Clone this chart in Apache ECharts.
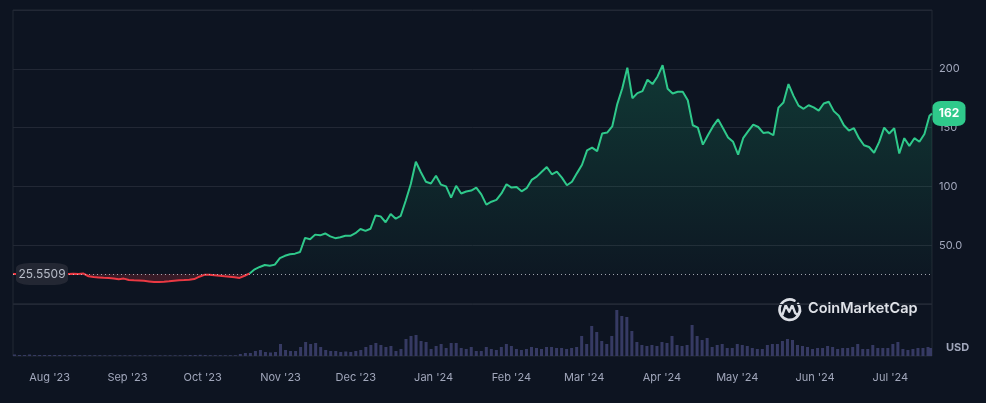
<!DOCTYPE html>
<html>
<head>
<meta charset="utf-8">
<script src="https://cdn.jsdelivr.net/npm/echarts@6/dist/echarts.min.js"></script>
<style>
  html, body { margin: 0; padding: 0; background: #0d1421; }
  #chart { width: 986px; height: 403px; }
</style>
</head>
<body>
<div id="chart"></div>
<script>
// ---- Data (sampled every 2 days from 18 Jul 2023, last point 17 Jul 2024) ----
const startYear = 2023, startMonth = 6, startDay = 18;   // 18 Jul 2023
const lastDayOffset = 365;                               // 17 Jul 2024
const baselinePrice = 25.5509;

const priceValues = [
  25.55, 25.6, 25.5, 25.6, 25.5, 25.6, 25.5, 25.6, 25.5, 25.6,
  25.5, 25.5, 25.7, 25.6, 25.9, 23.6, 22.9, 22.6, 22.3, 22.1,
  21.7, 21.1, 21.6, 20.4, 20.1, 20.0, 19.7, 19.2, 18.7, 18.8,
  19.0, 19.3, 19.8, 20.2, 20.4, 20.7, 21.2, 23.2, 24.8, 24.9,
  24.5, 24.0, 23.5, 23.2, 22.8, 22.2, 24.0, 26.0, 29.5, 31.5,
  33.2, 32.6, 33.5, 39, 41, 42.3, 42.8, 44.2, 56.2, 55,
  59, 58.4, 60, 57.5, 56, 56.8, 58, 58, 60.2, 63.8,
  62.2, 64, 75.3, 74.5, 69.5, 76.5, 72.5, 75, 88, 102,
  121, 112, 104, 102.5, 109, 101.5, 100, 90.5, 100.5, 94,
  95.7, 96.5, 99, 93.2, 84.5, 87, 88.5, 94, 101.8, 99,
  99.5, 95.8, 98.5, 105.5, 108.3, 112.5, 116.5, 110.3, 112.6, 107.5,
  101, 104, 111.3, 118.4, 130.7, 133, 130, 145, 145.8, 151,
  170, 183.5, 201, 175, 179.3, 181, 190.7, 187, 193.5, 203,
  183, 179, 180.5, 180.5, 173.3, 152, 150, 135.5, 143.5, 151,
  157, 149.5, 141.6, 137.9, 127, 141, 147, 152.5, 150.5, 145.5,
  146, 143.5, 167, 171.3, 187, 177, 168.7, 166, 169, 167.2,
  164.5, 170.5, 172, 164, 160, 152, 147.5, 149.5, 141, 135,
  133.5, 128.6, 137.6, 150, 145, 149.5, 128, 141, 134.5, 141,
  138, 144.5, 160, 162
];

const volumeValues = [
  1.5, 1, 1, 1.5, 1, 1, 1, 1, 1, 1,
  0.8, 0.8, 1, 0.8, 0.8, 0.8, 0.8, 0.8, 0.7, 0.7,
  0.7, 0.7, 0.7, 0.7, 0.7, 0.7, 0.7, 0.7, 0.7, 0.7,
  0.7, 0.7, 0.7, 0.7, 0.8, 1, 1, 1.2, 1, 0.8,
  0.8, 0.8, 0.8, 0.8, 0.8, 2, 3, 3, 5, 6,
  4, 3.5, 4, 12, 6, 5, 5, 9, 14, 12,
  13, 9, 6, 5, 5, 4, 4.5, 4, 5, 6,
  9, 11, 13, 11, 9, 10, 5, 7, 17, 20,
  21, 15, 14, 7, 10, 12, 8, 13, 13, 8,
  7, 9, 5, 5, 9, 7, 6, 9, 12, 10,
  7, 6, 7, 9, 8, 7, 9, 9, 8, 8,
  7, 8, 9, 20, 12, 30, 24, 15, 12, 20,
  46, 40, 39, 25, 14, 11, 10, 11, 10, 14,
  13, 20, 11, 10, 11, 31, 20, 16, 18, 9,
  11, 12, 8, 8, 12, 11, 10, 8, 7, 7,
  11, 12, 12, 15, 17, 16, 11, 10, 9, 7,
  8, 8, 10, 9, 7, 8, 8, 9, 12, 7,
  7, 11, 8, 8, 8, 12, 14, 7, 6, 7,
  8, 8, 9, 8
];

const redEndIndex = 47;   // line is red until it crosses the opening price
const monthNames = ['Jan','Feb','Mar','Apr','May','Jun','Jul','Aug','Sep','Oct','Nov','Dec'];
const yTickLabels = { 50: '50.0', 100: '100', 150: '150', 200: '200' };

// ---- Build ----
const dayOffsets = priceValues.map((_, i) => Math.min(2 * i, lastDayOffset));
const dates = dayOffsets.map(d => new Date(startYear, startMonth, startDay + d).getTime());
const pricePairs = priceValues.map((v, i) => [dates[i], v]);
const volumePairs = volumeValues.map((v, i) => [dates[i], v]);
const xMin = dates[0], xMax = dates[dates.length - 1];
const lastIdx = priceValues.length - 1;

const chart = echarts.init(document.getElementById('chart'), null, { renderer: 'canvas' });
const axisText = '#a1a7bb';
const gridLine = '#222835';
const upColor = '#2fc98b';

chart.setOption({
  backgroundColor: '#0d1421',
  animation: false,
  textStyle: { fontFamily: 'Inter, sans-serif' },
  grid: [
    { left: 13, right: 54, top: 10, height: 294, show: true, borderColor: gridLine, borderWidth: 1, containLabel: false },
    { left: 13, right: 54, top: 304, height: 52, show: true, borderColor: gridLine, borderWidth: 1, containLabel: false }
  ],
  xAxis: [
    { type: 'time', gridIndex: 0, min: xMin, max: xMax, show: false, splitLine: { show: false } },
    {
      type: 'time', gridIndex: 1, min: xMin, max: xMax, splitNumber: 12,
      axisLine: { show: false }, axisTick: { show: false }, splitLine: { show: false },
      axisLabel: {
        color: axisText, fontSize: 11, margin: 16, fontFamily: 'Inter, sans-serif',
        showMinLabel: false, showMaxLabel: false,
        formatter: function (val) {
          const d = new Date(val);
          return monthNames[d.getMonth()] + " '" + String(d.getFullYear()).slice(2);
        }
      }
    }
  ],
  yAxis: [
    {
      type: 'value', gridIndex: 0, position: 'right', min: 0, max: 250, interval: 50,
      axisLine: { show: false }, axisTick: { show: false },
      splitLine: { show: true, lineStyle: { color: gridLine, width: 1 } },
      axisLabel: {
        color: axisText, fontSize: 11, margin: 7, fontFamily: 'Inter, sans-serif',
        formatter: v => yTickLabels[v] || ''
      }
    },
    { type: 'value', gridIndex: 1, min: 0, max: 52, show: false, splitLine: { show: false } }
  ],
  series: [
    {
      name: 'Volume', type: 'bar', xAxisIndex: 1, yAxisIndex: 1,
      data: volumePairs, barWidth: 3, itemStyle: { color: '#363a63' }, silent: true
    },
    {
      name: 'PriceDown', type: 'line', xAxisIndex: 0, yAxisIndex: 0,
      data: pricePairs.slice(0, redEndIndex + 1), showSymbol: false, symbol: 'none',
      lineStyle: { color: '#ea3943', width: 2 },
      areaStyle: { origin: baselinePrice, color: 'rgba(234,57,67,0.28)' },
      z: 3,
      markPoint: {
        silent: true,
        symbol: 'roundRect', symbolSize: [52, 22], symbolOffset: [29, 0],
        itemStyle: { color: '#232733' },
        label: {
          show: true, color: '#b7bcc8', fontSize: 12, fontFamily: 'Inter, sans-serif',
          formatter: p => p.value.toFixed(4)
        },
        data: [{ coord: [xMin, baselinePrice], value: baselinePrice }]
      }
    },
    {
      name: 'PriceUp', type: 'line', xAxisIndex: 0, yAxisIndex: 0,
      data: pricePairs.slice(redEndIndex), showSymbol: false, symbol: 'none',
      lineStyle: { color: upColor, width: 2 },
      areaStyle: {
        origin: baselinePrice,
        color: new echarts.graphic.LinearGradient(0, 0, 0, 1, [
          { offset: 0, color: 'rgba(30,190,125,0.30)' },
          { offset: 1, color: 'rgba(30,190,125,0.03)' }
        ])
      },
      z: 3,
      markLine: {
        silent: true, symbol: ['none', 'none'],
        label: { show: false },
        lineStyle: { type: [1, 3], color: 'rgba(210,214,222,0.75)', width: 1 },
        data: [{ yAxis: baselinePrice }]
      },
      markPoint: {
        silent: true,
        symbol: 'roundRect', symbolSize: [33, 25], symbolOffset: [17, 0],
        itemStyle: { color: upColor },
        label: {
          show: true, color: '#ffffff', fontSize: 12, fontWeight: 'bold', fontFamily: 'Inter, sans-serif',
          formatter: p => String(Math.round(p.value))
        },
        data: [{ coord: [xMax, priceValues[lastIdx]], value: priceValues[lastIdx] }]
      }
    }
  ],
  graphic: [
    {
      type: 'group', left: 777, top: 297, silent: true, z: 10,
      children: [
        { type: 'arc', shape: { cx: 11.5, cy: 11.5, r: 10.2, startAngle: -0.6, endAngle: 5.2 },
          style: { stroke: '#dcdfe6', lineWidth: 2.6, fill: null, lineCap: 'round' } },
        { type: 'polyline', shape: { points: [[4.5, 16], [7.5, 7], [11, 13.5], [14, 7], [17, 15], [19.5, 16.5], [22, 13]] },
          style: { stroke: '#dcdfe6', lineWidth: 2.4, fill: null, lineJoin: 'round', lineCap: 'round' } }
      ]
    },
    { type: 'text', left: 808, top: 301, silent: true, z: 10,
      style: { text: 'CoinMarketCap', fill: '#dfe2e8', font: '600 14.5px Inter, sans-serif' } },
    { type: 'text', left: 946, top: 342, silent: true, z: 10,
      style: { text: 'USD', fill: axisText, font: 'bold 11px Inter, sans-serif' } }
  ]
});
</script>
</body>
</html>
